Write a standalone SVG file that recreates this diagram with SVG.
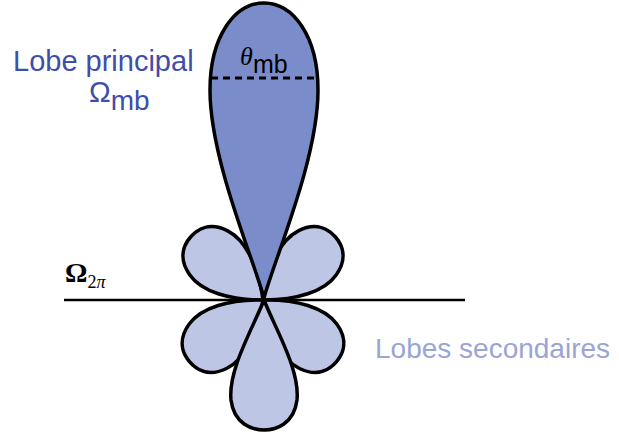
<svg xmlns="http://www.w3.org/2000/svg" width="619" height="434" viewBox="0 0 619 434">
  <defs>
    <style>
      .petal { fill: #bec6e5; stroke: #000; stroke-width: 3.5; stroke-linejoin: round; }
      .main { fill: #7b8cca; stroke: #000; stroke-width: 3.5; stroke-linejoin: round; }
      .sans { font-family: "Liberation Sans", Arial, sans-serif; }
      .serif { font-family: "Liberation Serif", "Times New Roman", serif; }
    </style>
    <path id="petalShape" d="M0,0 C25,-22 52,-34 72,-29 C92,-24 96,-10 96,0 C96,10 92,24 72,29 C52,34 25,22 0,0 Z"/>
    <path id="bottomShape" d="M0,0 C30,-12 70,-36 100,-33 C124,-30 130,-12 130,0 C130,12 124,30 100,33 C70,36 30,12 0,0 Z"/>
  </defs>
  <rect width="619" height="434" fill="#fff"/>

  <g id="side-lobes">
    <use href="#petalShape" class="petal" transform="translate(263,300) rotate(-139)"/>
    <use href="#petalShape" class="petal" transform="translate(263,300) rotate(-41)"/>
    <use href="#petalShape" class="petal" transform="translate(263,300) rotate(140)"/>
    <use href="#petalShape" class="petal" transform="translate(263,300) rotate(40)"/>
    <use href="#bottomShape" class="petal" transform="translate(264,300) rotate(90)"/>
  </g>

  <g id="main-lobe">
    <path class="main" d="M264,298 C254,260 210,160 210,90 C210,36 235,3 264,3 C293,3 318,36 318,90 C318,160 274,260 264,298 Z"/>
    <line x1="211" y1="78" x2="317" y2="78" stroke="#000" stroke-width="3" stroke-dasharray="7 5"/>
    <text x="240" y="65" class="serif" font-style="italic" font-size="26" fill="#000">θ</text>
    <text x="253" y="73" class="sans" font-size="25" fill="#000">mb</text>
  </g>

  <g id="connectors">
    <line x1="64" y1="300" x2="465" y2="300" stroke="#000" stroke-width="2.5"/>
  </g>

  <g id="labels">
    <text x="13" y="71" class="sans" font-size="29" fill="#3f4dab">Lobe principal</text>
    <text x="89" y="102" class="sans" font-size="29" fill="#3f4dab">Ω<tspan font-size="28" dy="8">mb</tspan></text>
    <text x="65" y="282" class="serif" font-size="28" font-weight="bold" fill="#000">Ω<tspan font-size="18" font-weight="normal" dy="6">2<tspan font-style="italic">π</tspan></tspan></text>
    <text x="375" y="358" class="sans" font-size="28" fill="#9aa5d5">Lobes secondaires</text>
  </g>
</svg>
